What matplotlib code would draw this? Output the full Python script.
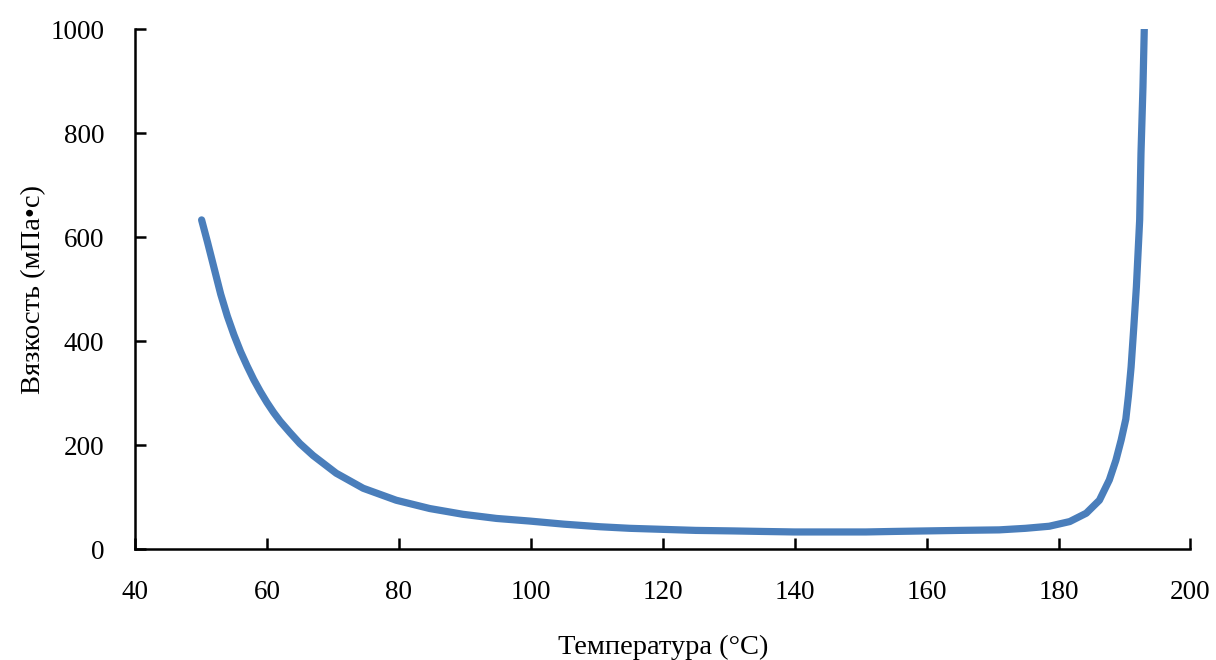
import matplotlib
matplotlib.use("Agg")
import matplotlib.pyplot as plt

temperature = [50.1, 51.0, 52.0, 53.0, 54.0, 55.0, 56.0, 57.0, 58.0, 59.0, 60.0,
               61.0, 62.0, 63.5, 65.0, 67.0, 70.5, 74.6, 79.6, 84.7, 89.7, 94.8,
               99.8, 105.0, 110.5, 115.0, 120.0, 125.0, 130.6, 135.0, 140.0, 145.0,
               150.8, 155.0, 160.0, 165.0, 171.0, 175.0, 178.6, 181.7, 184.2, 186.2,
               187.7, 188.7, 189.5, 190.2, 190.6, 191.0, 191.4, 191.8, 192.3, 192.5,
               192.8, 193.0]
viscosity = [633, 590, 540, 490, 448, 412, 380, 352, 326, 303, 282,
             263, 246, 224, 203, 180, 146, 117, 94, 78, 67, 59,
             54, 48, 43, 40, 38, 36, 35, 34, 33, 33,
             33, 34, 35, 36, 37, 40, 44, 53, 69, 94,
             133, 171, 210, 250, 295, 350, 425, 504, 633, 761,
             889, 1001]

x_ticks = [40, 60, 80, 100, 120, 140, 160, 180, 200]
y_ticks = [0, 200, 400, 600, 800, 1000]

plt.rcParams['font.family'] = ['Liberation Serif', 'DejaVu Serif']

fig = plt.figure(figsize=(12.16, 6.6), dpi=100)
ax = fig.add_axes([0.111, 0.168, 0.979 - 0.111, 0.956 - 0.168])

ax.plot(temperature, viscosity, color='#4a7ebb', linewidth=5.2,
        solid_capstyle='round', solid_joinstyle='round')

ax.set_xlim(40, 200)
ax.set_ylim(0, 1000)
ax.set_xticks(x_ticks)
ax.set_yticks(y_ticks)

for s in ['top', 'right']:
    ax.spines[s].set_visible(False)
for s in ['left', 'bottom']:
    ax.spines[s].set_linewidth(1.8)
    ax.spines[s].set_color('black')

ax.tick_params(axis='both', direction='in', length=8, width=1.8, labelsize=19.5, pad=22)

ax.set_xlabel('Температура (°C)', fontsize=20.5, labelpad=22)
ax.set_ylabel('Вязкость (мПа•с)', fontsize=20.5, labelpad=3)

fig.savefig('out.png', dpi=100)
